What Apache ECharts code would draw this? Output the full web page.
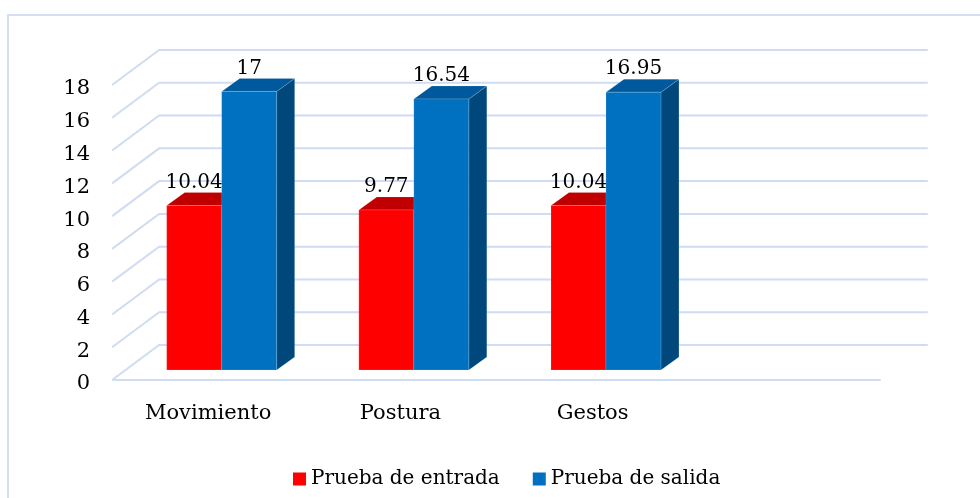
<!DOCTYPE html>
<html>
<head>
<meta charset="utf-8">
<script src="https://cdn.jsdelivr.net/npm/echarts@6/dist/echarts.min.js"></script>
<style>
  html, body { margin: 0; padding: 0; background: #fff; }
  #chart { width: 980px; height: 498px; }
</style>
</head>
<body>
<div id="chart"></div>
<script>
const categories = ['Movimiento', 'Postura', 'Gestos', '']
const entrada = [10.04, 9.77, 10.04]
const salida = [17, 16.54, 16.95]
const yTicks = [0, 2, 4, 6, 8, 10, 12, 14, 16, 18]

const FONT = 'DejaVu Serif'
const gridColor = '#d0dcf1'
// 3d offsets relative to the bar plane
const FRONT = [-13.5, 10]
const BACK = [33.5, -25]
const DEPTH = [18, -13]

const chart = echarts.init(document.getElementById('chart'))

function renderWall(params, api) {
  const cs = params.coordSys
  const v = api.value(1)
  const y = api.coord([0, v])[1]
  const style = { stroke: gridColor, lineWidth: 2, fill: null }
  const children = [{
    type: 'polyline',
    shape: {
      points: [
        [cs.x + FRONT[0], y + FRONT[1]],
        [cs.x + BACK[0], y + BACK[1]],
        [cs.x + cs.width + BACK[0], y + BACK[1]],
      ],
    },
    style,
  }]
  if (v === 0) {
    children.push({
      type: 'line',
      shape: {
        x1: cs.x + FRONT[0], y1: y + FRONT[1],
        x2: cs.x + cs.width + FRONT[0], y2: y + FRONT[1],
      },
      style,
    })
  }
  return { type: 'group', children, silent: true }
}

function makeBarRenderer(side, colors) {
  return function (params, api) {
    const cat = api.value(0)
    const val = api.value(1)
    const base = api.coord([cat, 0])
    const top = api.coord([cat, val])
    const w = api.size([1, 0])[0] * 0.2862
    const x0 = side < 0 ? base[0] - w : base[0]
    const x1 = x0 + w
    const yb = base[1]
    const yt = top[1]
    const [dx, dy] = DEPTH
    const edge = 'rgba(255,255,255,0.25)'
    return {
      type: 'group',
      children: [
        {
          type: 'polygon',
          shape: { points: [[x1, yb], [x1 + dx, yb + dy], [x1 + dx, yt + dy], [x1, yt]] },
          style: { fill: colors.side, stroke: edge, lineWidth: 0.6 },
        },
        {
          type: 'polygon',
          shape: { points: [[x0, yt], [x1, yt], [x1 + dx, yt + dy], [x0 + dx, yt + dy]] },
          style: { fill: colors.top, stroke: edge, lineWidth: 0.6 },
        },
        {
          type: 'rect',
          shape: { x: x0, y: yt, width: w, height: yb - yt },
          style: { fill: colors.front, stroke: edge, lineWidth: 0.6 },
        },
        {
          type: 'text',
          x: x0 + w / 2,
          y: yt - 23,
          style: {
            text: String(val),
            fill: '#000',
            font: '20px "' + FONT + '"',
            align: 'center',
            verticalAlign: 'middle',
          },
        },
      ],
    }
  }
}

chart.setOption({
  animation: false,
  backgroundColor: '#fff',
  textStyle: { fontFamily: FONT },
  graphic: [{
    type: 'rect',
    shape: { x: 8, y: 15, width: 1000, height: 520 },
    style: { fill: null, stroke: '#d3def1', lineWidth: 2 },
    silent: true,
  }],
  legend: {
    left: 288,
    top: 464,
    itemWidth: 13,
    itemHeight: 13,
    itemGap: 33,
    icon: 'rect',
    textStyle: { fontFamily: FONT, fontSize: 20, color: '#000' },
    data: ['Prueba de entrada', 'Prueba de salida'],
  },
  grid: [
    // bar plane
    { left: 125.6, right: 85.8, top: 75, bottom: 128 },
    // label plane, a few px below the front edge so digits sit like the original
    { left: 112, right: 99, top: 89, bottom: 114 },
  ],
  xAxis: [
    {
      type: 'category', gridIndex: 0, data: categories,
      axisLine: { show: false }, axisTick: { show: false }, axisLabel: { show: false },
    },
    {
      type: 'category', gridIndex: 1, data: categories,
      axisLine: { show: false }, axisTick: { show: false },
      axisLabel: { margin: 19, fontSize: 21, color: '#000', fontFamily: FONT },
    },
  ],
  yAxis: [
    {
      type: 'value', gridIndex: 0, min: 0, max: 18, interval: 2,
      axisLine: { show: false }, axisTick: { show: false },
      axisLabel: { show: false }, splitLine: { show: false },
    },
    {
      type: 'value', gridIndex: 1, min: 0, max: 18, interval: 2,
      axisLine: { show: false }, axisTick: { show: false },
      splitLine: { show: false },
      axisLabel: { margin: 22, fontSize: 21, color: '#000', fontFamily: FONT },
    },
  ],
  series: [
    {
      type: 'custom',
      name: 'walls',
      xAxisIndex: 0, yAxisIndex: 0,
      z: 1,
      renderItem: renderWall,
      data: yTicks.map((v) => [0, v]),
    },
    {
      type: 'custom',
      name: 'Prueba de entrada',
      xAxisIndex: 0, yAxisIndex: 0,
      z: 2,
      itemStyle: { color: '#ff0000' },
      renderItem: makeBarRenderer(-1, { front: '#ff0000', top: '#c00000', side: '#a00000' }),
      data: entrada.map((v, i) => [i, v]),
    },
    {
      type: 'custom',
      name: 'Prueba de salida',
      xAxisIndex: 0, yAxisIndex: 0,
      z: 3,
      itemStyle: { color: '#0070c0' },
      renderItem: makeBarRenderer(1, { front: '#0070c0', top: '#00599c', side: '#00477c' }),
      data: salida.map((v, i) => [i, v]),
    },
  ],
})
</script>
</body>
</html>
